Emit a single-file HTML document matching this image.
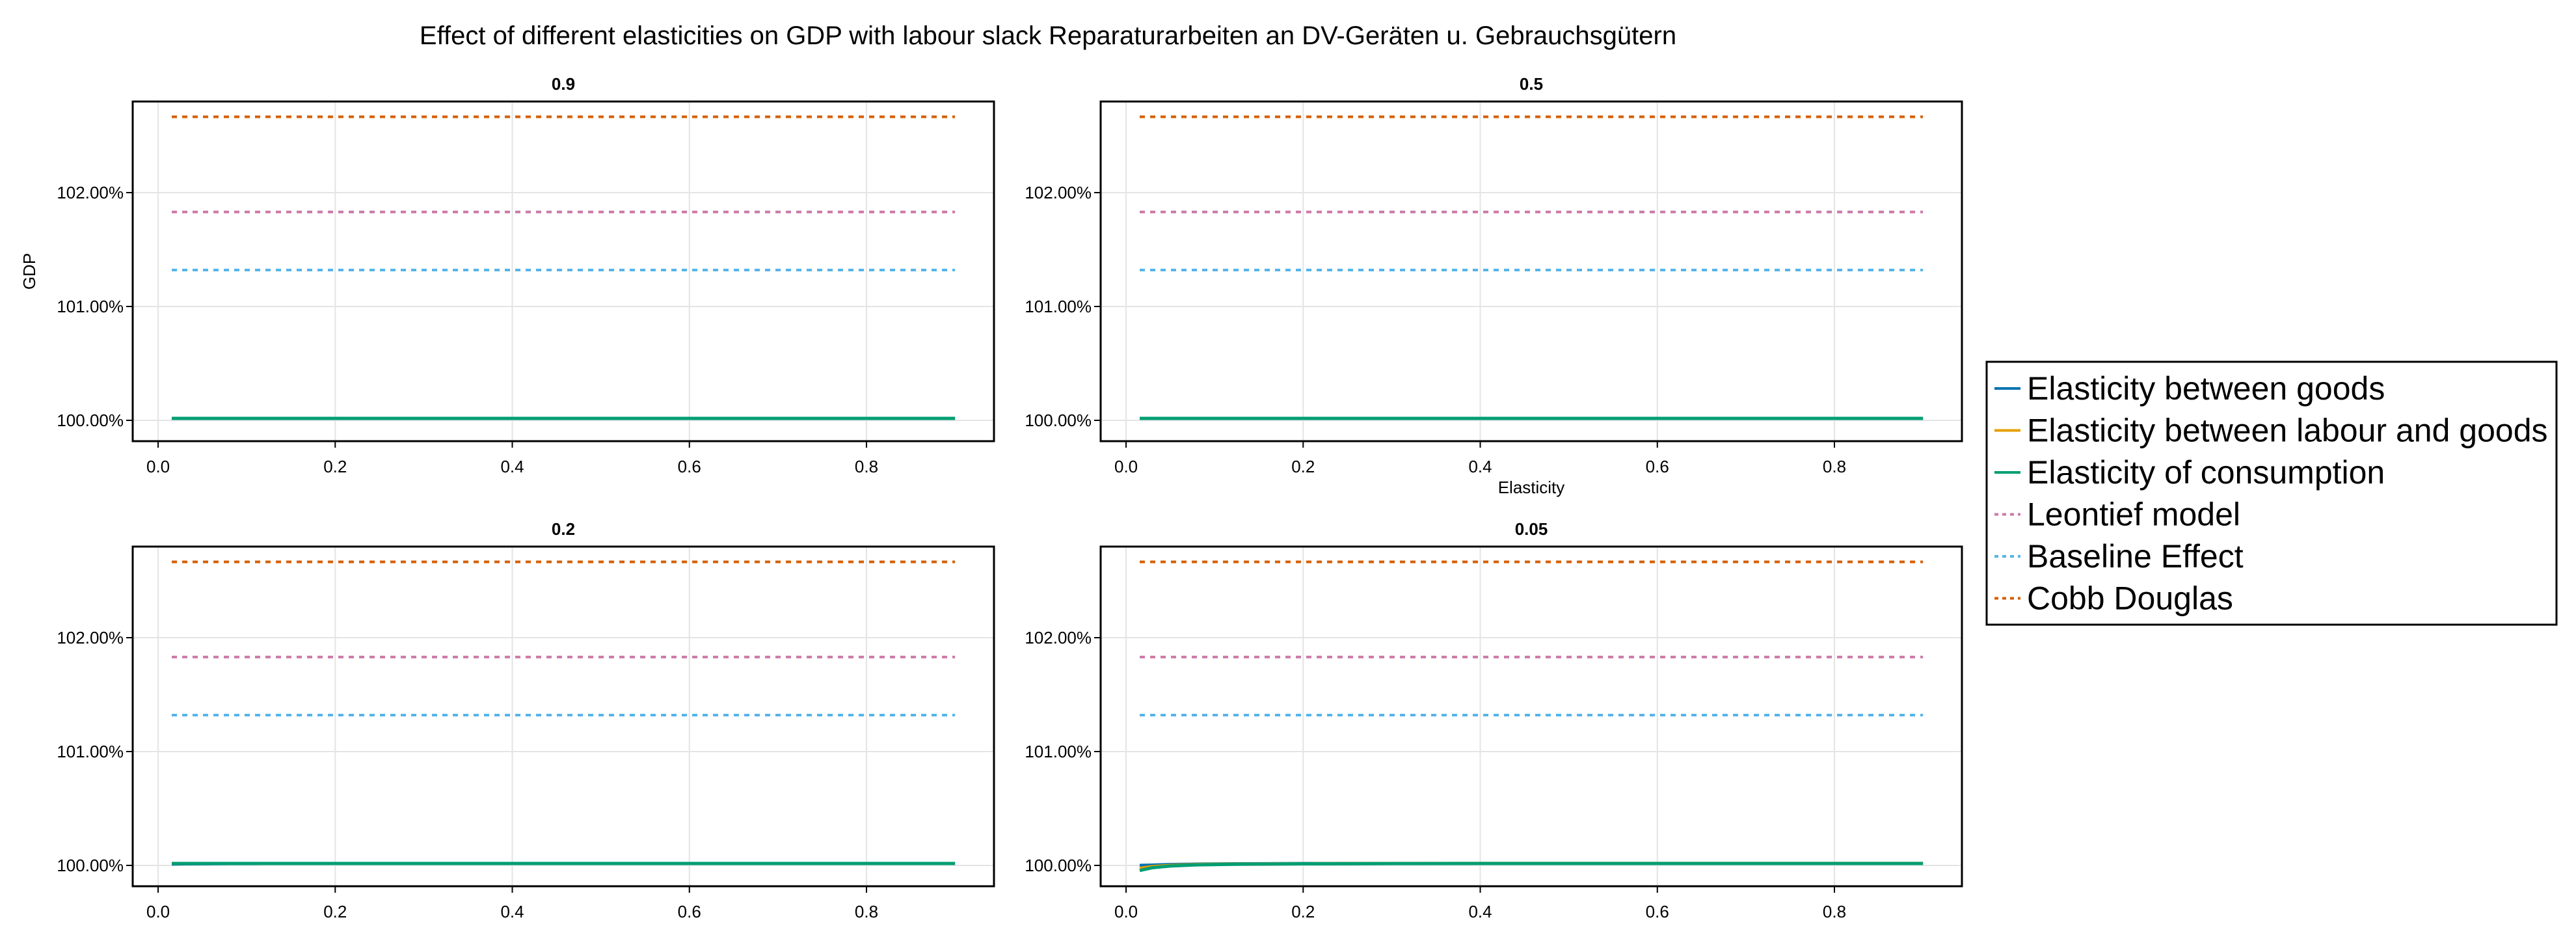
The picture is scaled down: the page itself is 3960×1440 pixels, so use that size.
<!DOCTYPE html>
<html><head><meta charset="utf-8"><style>
html,body{margin:0;padding:0;background:#fff;}
svg{display:block;font-family:"Liberation Sans",Arial,sans-serif;}
</style></head><body>
<svg id="chart" width="3960" height="1440" viewBox="0 0 3960 1440" xmlns="http://www.w3.org/2000/svg">
<rect width="3960" height="1440" fill="#fff"/>
<text x="1611" y="68" font-size="40" text-anchor="middle">Effect of different elasticities on GDP with labour slack Reparaturarbeiten an DV-Geräten u. Gebrauchsgütern</text>
<g id="panels"></g>
<g id="legend"></g>
</svg>
<script>
const panelTitles = ["0.9","0.5","0.2","0.05"];
const xVals = [0.0154,0.03,0.05,0.08,0.12,0.2,0.3,0.4,0.5,0.6,0.7,0.8,0.9];
const flatSolid = [100.017,100.017,100.017,100.017,100.017,100.017,100.017,100.017,100.017,100.017,100.017,100.017,100.017];
const p3Blue = [100.012,100.014,100.015,100.016,100.017,100.017,100.017,100.017,100.017,100.017,100.017,100.017,100.017];
const p4Blue = [100.0,100.003,100.008,100.011,100.014,100.016,100.017,100.017,100.017,100.017,100.017,100.017,100.017];
const p4Orange = [99.975,99.99,100.0,100.008,100.012,100.015,100.017,100.018,100.018,100.018,100.018,100.018,100.018];
const p4Green = [99.955,99.98,99.995,100.005,100.01,100.014,100.016,100.017,100.017,100.017,100.017,100.017,100.017];
const cobbDouglas = 102.666;
const leontief = 101.83;
const baseline = 101.32;
const yTicks = [100,101,102];
const yTickLabels = ["100.00%","101.00%","102.00%"];
const xTicks = [0,0.2,0.4,0.6,0.8];
const xTickLabels = ["0.0","0.2","0.4","0.6","0.8"];
const legendLabels = ["Elasticity between goods","Elasticity between labour and goods","Elasticity of consumption","Leontief model","Baseline Effect","Cobb Douglas"];

const C = {blue:"#0072B2",orange:"#E69F00",green:"#009E73",pink:"#CC79A7",sky:"#56B4E9",red:"#D55E00"};
const NS="http://www.w3.org/2000/svg";
function mk(tag,attrs,parent){const e=document.createElementNS(NS,tag);for(const k in attrs)e.setAttribute(k,attrs[k]);parent.appendChild(e);return e;}
const W=1324,H=522, XMIN=-0.0287, XMAX=0.944, YMIN=99.817, YMAX=102.8;
const pos=[[204,156],[1692,156],[204,840],[1692,840]];
const series=[
 {blue:flatSolid,orange:flatSolid,green:flatSolid},
 {blue:flatSolid,orange:flatSolid,green:flatSolid},
 {blue:p3Blue,orange:flatSolid,green:flatSolid},
 {blue:p4Blue,orange:p4Orange,green:p4Green}];
const root=document.getElementById('panels');
pos.forEach((p,i)=>{
 const [L,T]=p;
 const sx=v=>L+(v-XMIN)/(XMAX-XMIN)*W;
 const sy=v=>T+H-(v-YMIN)/(YMAX-YMIN)*H;
 const g=mk('g',{},root);
 
 
 const t=mk('text',{x:L+W/2,y:T-18,'font-size':26,'font-weight':'bold','text-anchor':'middle'},g);
 t.textContent=panelTitles[i];
 
 
 xTicks.forEach((v,j)=>{
  const gl=mk('line',{x1:sx(v),x2:sx(v),y1:T,y2:T+H,stroke:'#e4e4e4','stroke-width':2},g);
  
  
  mk('line',{x1:sx(v),x2:sx(v),y1:T+H,y2:T+H+10,stroke:'#000','stroke-width':2},g);
  const tl=mk('text',{x:sx(v),y:T+H+48,'font-size':26,'text-anchor':'middle'},g);
  tl.textContent=xTickLabels[j];
  
  
 });
 yTicks.forEach((v,j)=>{
  const gl=mk('line',{x1:L,x2:L+W,y1:sy(v),y2:sy(v),stroke:'#e4e4e4','stroke-width':2},g);
  
  
  mk('line',{x1:L-10,x2:L,y1:sy(v),y2:sy(v),stroke:'#000','stroke-width':2},g);
  const tl=mk('text',{x:L-14,y:sy(v)+9,'font-size':26,'text-anchor':'end'},g);
  tl.textContent=yTickLabels[j];
  
  
 });
 [[cobbDouglas,C.red,'cobb-douglas-line'],[leontief,C.pink,'leontief-line'],[baseline,C.sky,'baseline-line']].forEach(d=>{
  const l=mk('line',{x1:sx(xVals[0]),x2:sx(xVals[xVals.length-1]),y1:sy(d[0]),y2:sy(d[0]),stroke:d[1],'stroke-width':4,'stroke-dasharray':'8 8'},g);
  
  
 });
 const s=series[i];
 [['blue',C.blue],['orange',C.orange],['green',C.green]].forEach(d=>{
  const pts=xVals.map((x,k)=>sx(x)+','+sy(s[d[0]][k])).join(' ');
  const pl=mk('polyline',{points:pts,fill:'none',stroke:d[1],'stroke-width':5,'stroke-linejoin':'round'},g);
  
  
 });
 const fr=mk('rect',{x:L,y:T,width:W,height:H,fill:'none',stroke:'#000','stroke-width':3},g);
 
 
});
const yl=mk('text',{x:0,y:0,'font-size':26,'text-anchor':'middle',transform:'translate(54,417) rotate(-90)'},root);
yl.textContent='GDP';


const xl=mk('text',{x:1692+W/2,y:758,'font-size':26,'text-anchor':'middle'},root);
xl.textContent='Elasticity';


const lg=document.getElementById('legend');
mk('rect',{x:3054,y:556,width:876,height:404,fill:'#fff',stroke:'#000','stroke-width':3},lg);
const lc=[C.blue,C.orange,C.green,C.pink,C.sky,C.red];
legendLabels.forEach((lab,i)=>{
 const by=614+i*64.5;
 const e=mk('g',{},lg);
 
 
 mk('line',{x1:3066,x2:3106,y1:by-17,y2:by-17,stroke:lc[i],'stroke-width':4,'stroke-dasharray':i<3?'none':'6 6'},e);
 const t=mk('text',{x:3116,y:by,'font-size':50},e);
 t.textContent=lab;
});
</script>
</body></html>
